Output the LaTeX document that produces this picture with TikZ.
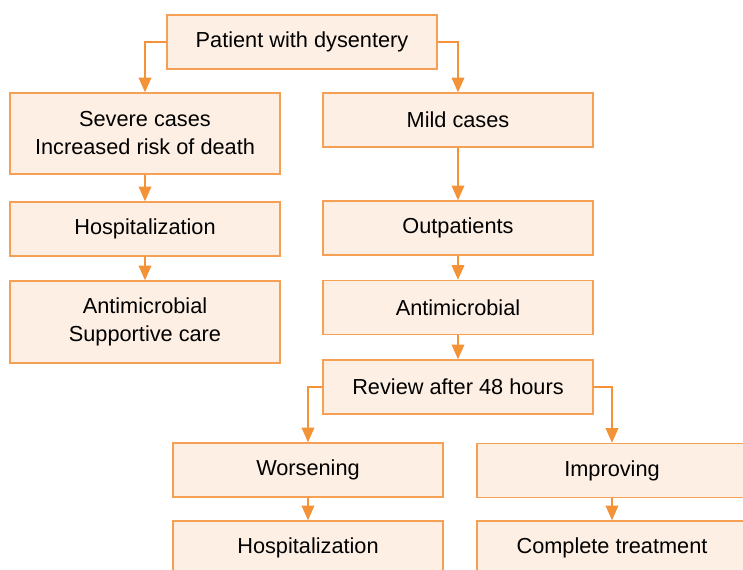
\documentclass[tikz,border=0pt]{standalone}
\usepackage{fontspec}
\setmainfont{Liberation Sans}
\usepackage{tikz}
\usetikzlibrary{arrows.meta, positioning}
\definecolor{boxline}{HTML}{F5A055}
\definecolor{boxfill}{HTML}{FDEFE3}
\definecolor{arrowline}{HTML}{F39237}

\begin{document}
\begin{tikzpicture}[x=0.75pt, y=-0.75pt,
    box/.style={draw=boxline, fill=boxfill, line width=1.1pt, minimum width=202.5pt, minimum height=40.5pt, inner sep=0pt, align=center, font=\fontsize{16.3}{21}\selectfont},
    flow/.style={draw=arrowline, line width=1.1pt, -{Triangle[length=11pt, width=9.5pt]}}]
    \clip (0,0) rectangle (743,570);
    \useasboundingbox (0,0) rectangle (743,570);
    % left branch
    \node [box] (patient) at (302,42) {Patient with dysentery};
    \node [box, minimum height=60.75pt] (severe) at (145,133.5) {Severe cases\\Increased risk of death};
    \node [box] (hospleft) at (145,229) {Hospitalization};
    \node [box, minimum height=61.5pt] (supportive) at (145,322) {Antimicrobial\\Supportive care};
    % right branch
    \node [box] (mild) at (458,120) {Mild cases};
    \node [box] (outpatients) at (458,228) {Outpatients};
    \node [box] (antimicrobial) at (458,307.5) {Antimicrobial};
    \node [box] (review) at (458,387) {Review after 48 hours};
    \node [box] (worsening) at (308,470) {Worsening};
    \node [box] (improving) at (612,470.5) {Improving};
    \node [box] (hospright) at (308,548) {Hospitalization};
    \node [box] (complete) at (612,548) {Complete treatment};
    % connectors
    \draw [flow] (patient.west) -| (severe.north);
    \draw [flow] (patient.east) -| (mild.north);
    \draw [flow] (severe) -- (hospleft);
    \draw [flow] (hospleft) -- (supportive);
    \draw [flow] (mild) -- (outpatients);
    \draw [flow] (outpatients) -- (antimicrobial);
    \draw [flow] (antimicrobial) -- (review);
    \draw [flow] (review.west) -| (worsening.north);
    \draw [flow] (review.east) -| (improving.north);
    \draw [flow] (worsening) -- (hospright);
    \draw [flow] (improving) -- (complete);
\end{tikzpicture}
\end{document}
